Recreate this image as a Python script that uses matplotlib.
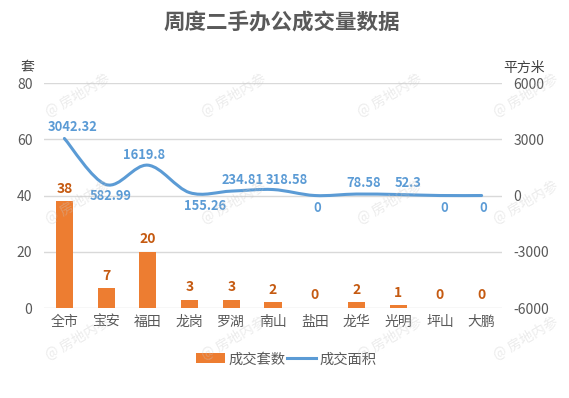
import matplotlib
matplotlib.use("Agg")
import matplotlib.pyplot as plt
from matplotlib.path import Path
from matplotlib.patches import PathPatch
from matplotlib.lines import Line2D
from matplotlib.patches import Patch
import numpy as np

plt.rcParams['font.family'] = ['Noto Sans CJK SC', 'DejaVu Sans']
plt.rcParams['axes.unicode_minus'] = False

categories = ['全市', '宝安', '福田', '龙岗', '罗湖', '南山', '盐田', '龙华', '光明', '坪山', '大鹏']
units = [38, 7, 20, 3, 3, 2, 0, 2, 1, 0, 0]
area = [3042.32, 582.99, 1619.8, 155.26, 234.81, 318.58, 0, 78.58, 52.3, 0, 0]
area_labels = ['3042.32', '582.99', '1619.8', '155.26', '234.81', '318.58', '0', '78.58', '52.3', '0', '0']
left_ticks = [0, 20, 40, 60, 80]
right_ticks = [-6000, -3000, 0, 3000, 6000]

# label offsets in points (style)
area_off = [(6, 8), (3, -8), (-3, 7), (11, -10), (8, 8), (10, 7), (2, -9), (5, 8), (7, 8), (3, -9), (1, -9)]

bar_color = '#ED7D31'
bar_text = '#C55A11'
line_color = '#5B9BD5'
txt = '#595959'
grid = '#D9D9D9'

fig = plt.figure(figsize=(5.69, 3.98), dpi=100)
ax = fig.add_axes([0.0765, 0.2261, 0.8066, 0.5653])
ax2 = ax.twinx()

x = np.arange(len(categories))
ax.bar(x, units, width=0.41, color=bar_color, zorder=3)
ax.set_ylim(0, 80)
ax.set_xlim(-0.5, len(categories) - 0.5)
ax.set_yticks(left_ticks)
ax.set_xticks(x)
ax.set_xticklabels(categories)
ax.grid(axis='y', color=grid, linewidth=1, zorder=0)
ax.set_axisbelow(True)
for s in ax.spines.values():
    s.set_visible(False)
for s in ax2.spines.values():
    s.set_visible(False)
ax.tick_params(axis='both', length=0, colors=txt, labelsize=10)
ax.tick_params(axis='x', pad=5)
ax.tick_params(axis='y', pad=8)

for xi, v in zip(x, units):
    ax.annotate(str(v), (xi, v), xytext=(0, 4), textcoords='offset points',
                ha='center', va='bottom', color=bar_text, fontsize=10, fontweight='bold')

ax2.set_ylim(-6000, 6000)
ax2.set_yticks(right_ticks)
ax2.tick_params(axis='y', length=0, colors=txt, labelsize=10, pad=8)

# smooth curve via cubic Bezier (Excel-style smoothing)
ys = np.array(area, dtype=float)
xs = x.astype(float)
n = len(xs)
verts = [(xs[0], ys[0])]
codes = [Path.MOVETO]
for i in range(n - 1):
    p0 = np.array([xs[max(i - 1, 0)], ys[max(i - 1, 0)]])
    p1 = np.array([xs[i], ys[i]])
    p2 = np.array([xs[i + 1], ys[i + 1]])
    p3 = np.array([xs[min(i + 2, n - 1)], ys[min(i + 2, n - 1)]])
    c1 = p1 + (p2 - p0) / 6.0
    c2 = p2 - (p3 - p1) / 6.0
    verts += [tuple(c1), tuple(c2), tuple(p2)]
    codes += [Path.CURVE4] * 3
ax2.add_patch(PathPatch(Path(verts, codes), facecolor='none', edgecolor=line_color,
                        linewidth=2.2, zorder=4, capstyle='round'))

for xi, v, lab, off in zip(x, area, area_labels, area_off):
    ax2.annotate(lab, (xi, v), xytext=off, textcoords='offset points',
                 ha='center', va='center', color=line_color, fontsize=9.3, fontweight='bold')

fig.text(0.495, 0.942, '周度二手办公成交量数据', ha='center', va='center',
         fontsize=15.5, fontweight='bold', color=txt)
fig.text(0.049, 0.83, '套', ha='center', va='center', fontsize=10, color='#404040')
fig.text(0.921, 0.83, '平方米', ha='center', va='center', fontsize=10, color='#404040')

handles = [Patch(facecolor=bar_color, edgecolor='none'),
           Line2D([0], [0], color=line_color, linewidth=2.2)]
leg = fig.legend(handles, ['成交套数', '成交面积'], loc='center', bbox_to_anchor=(0.503, 0.097),
                 ncol=2, frameon=False, fontsize=10.3, handlelength=2.0, handleheight=0.7,
                 columnspacing=0.1, handletextpad=0.25, labelcolor=txt)

# faint watermarks
for wy in [0.76, 0.49, 0.15]:
    for wx in [0.137, 0.411, 0.685, 0.925]:
        fig.text(wx, wy, '@ 房地内参', rotation=30, ha='center', va='center',
                 fontsize=10, color='#C8C8C8', alpha=0.35, zorder=10)

fig.savefig('out.png', dpi=100)
